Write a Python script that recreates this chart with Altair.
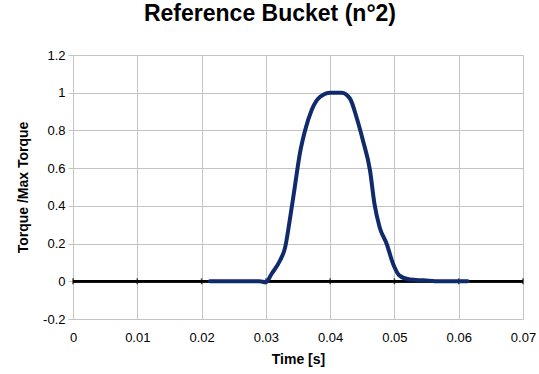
import altair as alt
import pandas as pd

time_s = [0.0213, 0.0250, 0.0290, 0.0300, 0.0309, 0.0322, 0.0330, 0.0337, 0.0345,
          0.0353, 0.0361, 0.0371, 0.0384, 0.0400, 0.0418, 0.0431, 0.0441, 0.0451,
          0.0462, 0.0469, 0.0477, 0.0488, 0.0498, 0.0508, 0.0524, 0.0545, 0.0570, 0.0614]
torque_ratio = [0.0, 0.0, 0.0, -0.005, 0.04, 0.11, 0.18, 0.32, 0.50,
                0.68, 0.80, 0.906, 0.977, 1.0, 1.0, 0.968, 0.87, 0.747,
                0.588, 0.41, 0.287, 0.198, 0.092, 0.03, 0.009, 0.005, 0.0, 0.0]
x_ticks = [0, 0.01, 0.02, 0.03, 0.04, 0.05, 0.06, 0.07]
y_ticks = [-0.2, 0, 0.2, 0.4, 0.6, 0.8, 1, 1.2]

curve = pd.DataFrame({"t": time_s, "v": torque_ratio})
ticks_df = pd.DataFrame({"t": x_ticks, "zero": [0.0] * len(x_ticks)})

LABEL_FONT = "Liberation Sans"
GRID = "#c4c4c4"

xs = alt.Scale(domain=[0, 0.07], nice=False, zero=False)
ys = alt.Scale(domain=[-0.2, 1.2], nice=False, zero=False)

x_axis = alt.Axis(values=x_ticks, title="Time [s]", labelExpr="'' + datum.value",
                  ticks=False, labelPadding=12, titlePadding=8,
                  labelOverlap=False, labelFlush=False, labelBound=False,
                  domainColor=GRID, gridColor=GRID, grid=True)
y_axis = alt.Axis(values=y_ticks, title="Torque /Max Torque", labelExpr="'' + datum.value",
                  tickSize=5, tickColor=GRID, labelPadding=3, titlePadding=12,
                  labelOverlap=False, labelFlush=False, labelBound=False,
                  domainColor=GRID, gridColor=GRID, grid=True)

X = lambda f: alt.X(f, scale=xs, axis=x_axis)
Y = lambda f: alt.Y(f, scale=ys, axis=y_axis)

line = alt.Chart(curve).mark_line(
    color="#0f2b6b", strokeWidth=4, interpolate="monotone",
    strokeCap="round", strokeJoin="round"
).encode(x=X("t:Q"), y=Y("v:Q"))

zero_rule = alt.Chart(ticks_df).mark_rule(color="black", strokeWidth=2).encode(
    y=Y("zero:Q")
)

zero_ticks = alt.Chart(ticks_df).mark_tick(
    orient="vertical", size=6, thickness=1.5, color="black"
).encode(x=X("t:Q"), y=Y("zero:Q"))

chart = alt.layer(zero_rule, zero_ticks, line).properties(
    width=450,
    height=264,
    autosize=alt.AutoSizeParams(type="none"),
    padding={"left": 73, "top": 55, "right": 16, "bottom": 55},
    title=alt.TitleParams(
        "Reference Bucket (n°2)",
        font="Liberation Sans",
        fontSize=23, fontWeight="bold", color="black",
        anchor="middle", dx=-28, offset=23,
    ),
).configure_view(
    stroke=None
).configure_axis(
    labelFont=LABEL_FONT, labelFontSize=13, labelColor="black",
    titleFont=LABEL_FONT, titleFontSize=14, titleFontWeight="bold", titleColor="black",
    gridWidth=1, domainWidth=1,
)

chart.save("out.html", embed_options={"renderer": "svg", "actions": False})
